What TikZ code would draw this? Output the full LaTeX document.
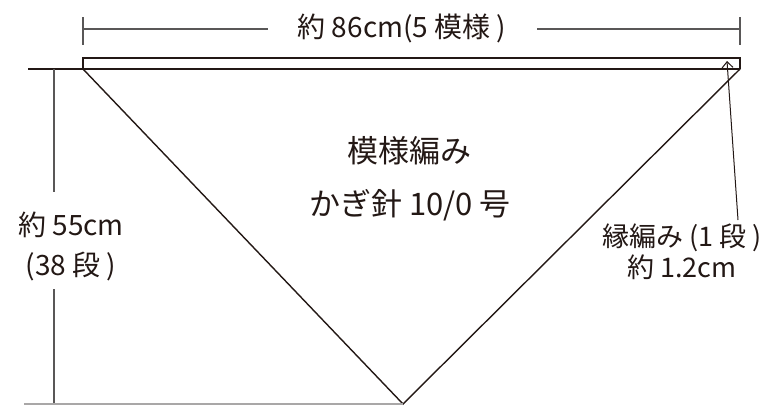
\documentclass[tikz,border=0pt]{standalone}
\usepackage{fontspec}
\setmainfont{Noto Sans CJK JP}
\usetikzlibrary{arrows.meta}
\definecolor{ink}{HTML}{231815}
\definecolor{dimc}{HTML}{595757}
\definecolor{lgray}{HTML}{A9A7A7}
\tikzset{
  outline/.style={draw=ink, line width=1.4pt, line join=miter},
  dimline/.style={draw=dimc, line width=1.2pt},
  baseline/.style={draw=lgray, line width=1.2pt},
  lbl/.style={text=ink, inner sep=0pt, anchor=center, align=center},
  sidetxt/.style={lbl, font=\fontsize{28}{34}\selectfont},
  toptxt/.style={lbl, font=\fontsize{28}{34}\selectfont},
  centtxt/.style={lbl, font=\fontsize{31}{36}\selectfont},
  edgetxt/.style={lbl, font=\fontsize{27}{32}\selectfont},
  pointer/.style={draw=ink, line width=1pt, -{Straight Barb[length=6pt,width=11pt,line width=1pt]}}
}
\begin{document}
\begin{tikzpicture}[x=1pt,y=-1pt]
\useasboundingbox (0,0) rectangle (762,405);
% main shape coordinates
\coordinate (tl) at (83,69);
\coordinate (tr) at (740,69);
\coordinate (apex) at (403,404);
\coordinate (btl) at (83,58);
\coordinate (btr) at (740,58);
% triangle
\draw[outline] (tl) -- (apex) -- (tr);
% border band
\draw[outline] (tl) -- (btl) -- (btr) -- (tr);
\coordinate (extl) at (28,69);
\draw[outline] (extl) -- (tr);
% top dimension
\coordinate (t1a) at (83,17); \coordinate (t1b) at (83,45);
\coordinate (t2a) at (740,17); \coordinate (t2b) at (740,45);
\draw[dimline] (t1a) -- (t1b);
\draw[dimline] (t2a) -- (t2b);
\node[toptxt] (wlabel) at (402,28) {約 86cm(5 模様 )};
\coordinate (w1) at (83,29); \coordinate (w2) at (740,29);
\coordinate (w1e) at (268,29); \coordinate (w2s) at (537,29);
\draw[dimline] (w1) -- (w1e);
\draw[dimline] (w2s) -- (w2);
% left dimension
\node[sidetxt] (hlabel1) at (71,225) {約 55cm};
\node[sidetxt] (hlabel2) at (71,266) {(38 段 )};
\coordinate (h1) at (54,69); \coordinate (h1e) at (54,192);
\coordinate (h2s) at (54,289); \coordinate (h2) at (54,404);
\draw[dimline] (h1) -- (h1e);
\draw[dimline] (h2s) -- (h2);
\coordinate (bl) at (24,404);
\draw[baseline] (bl) -- (apex);
% center text
\node[centtxt] (pat) at (409,151) {模様編み};
\node[centtxt] (hook) at (410,205) {かぎ針 10/0 号};
% edging label
\node[edgetxt] (edge1) at (682,238) {縁編み (1 段 )};
\node[edgetxt] (edge2) at (682,267) {約 1.2cm};
\coordinate (arrs) at (738,220);
\coordinate (arrt) at (727,61);
\draw[pointer] (arrs) -- (arrt);
\end{tikzpicture}
\end{document}
